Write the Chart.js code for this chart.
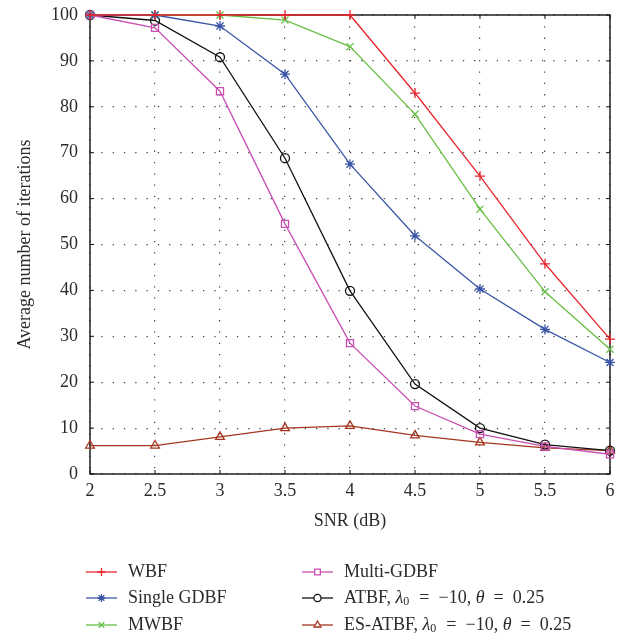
<!DOCTYPE html>
<html>
<head>
<meta charset="utf-8">
<script src="https://cdn.jsdelivr.net/npm/chart.js@4/dist/chart.umd.min.js"></script>
<style>
  html, body { margin: 0; padding: 0; background: #fff; }
  #wrap { width: 642px; height: 637px; position: relative; }
</style>
</head>
<body>
<div id="wrap"><canvas id="snrChart"></canvas></div>
<script>
var snr = [2, 2.5, 3, 3.5, 4, 4.5, 5, 5.5, 6];
var wbf = [100, 100, 100, 100, 100, 83.0, 64.9, 45.8, 29.4];
var singleGdbf = [100, 100, 97.6, 87.1, 67.5, 51.9, 40.3, 31.5, 24.3];
var mwbf = [100, 100, 100, 98.9, 93.1, 78.4, 57.7, 39.7, 27.2];
var multiGdbf = [100, 97.2, 83.4, 54.5, 28.5, 14.8, 8.7, 6.0, 4.3];
var atbf = [100, 98.8, 90.8, 68.8, 39.9, 19.6, 10.0, 6.4, 5.1];
var esAtbf = [6.2, 6.2, 8.1, 10.0, 10.5, 8.4, 6.9, 5.7, 5.1];

var seriesNames = ['WBF', 'Single GDBF', 'MWBF', 'Multi-GDBF',
  'ATBF, λ0 = −10, θ = 0.25', 'ES-ATBF, λ0 = −10, θ = 0.25'];

var FONT = '"Liberation Serif", "Times New Roman", serif';
var TEXT = '#2b2b2b';

function pts(vals) {
  return vals.map(function (v, i) { return { x: snr[i], y: v }; });
}

function series(name, vals, color, style, radius) {
  return {
    label: name,
    data: pts(vals),
    borderColor: color,
    backgroundColor: '#fff',
    borderWidth: 1.3,
    pointStyle: style,
    pointRadius: radius,
    pointBorderColor: color,
    pointBackgroundColor: 'rgba(255,255,255,0)',
    pointBorderWidth: 1.3,
    tension: 0,
    clip: false
  };
}

// box around the plot + small inward ticks
var frame = {
  id: 'frame',
  beforeDatasetsDraw: function (chart) {
    var a = chart.chartArea, c = chart.ctx;
    c.save();
    c.strokeStyle = '#111';
    c.lineWidth = 1.4;
    c.strokeRect(a.left, a.top, a.right - a.left, a.bottom - a.top);
    c.lineWidth = 1;
    var t = 4;
    chart.scales.x.ticks.forEach(function (tk) {
      var x = chart.scales.x.getPixelForValue(tk.value);
      c.beginPath();
      c.moveTo(x, a.top); c.lineTo(x, a.top + t);
      c.moveTo(x, a.bottom); c.lineTo(x, a.bottom - t);
      c.stroke();
    });
    chart.scales.y.ticks.forEach(function (tk) {
      var y = chart.scales.y.getPixelForValue(tk.value);
      c.beginPath();
      c.moveTo(a.left, y); c.lineTo(a.left + t, y);
      c.moveTo(a.right, y); c.lineTo(a.right - t, y);
      c.stroke();
    });
    c.restore();
  }
};

function drawRich(c, text, x, y) {
  // math-style spacing around "=" and italic greek with subscript
  var parts = text.replace(/ = /g, '\u2002=\u2002').split(/(λ0|θ)/);
  parts.forEach(function (p) {
    if (p === 'λ0') {
      c.font = 'italic 18px ' + FONT;
      c.fillText('λ', x, y);
      x += c.measureText('λ').width;
      c.font = '12px ' + FONT;
      c.fillText('0', x, y + 4);
      x += c.measureText('0').width + 1;
    } else if (p === 'θ') {
      c.font = 'italic 18px ' + FONT;
      c.fillText('θ', x, y);
      x += c.measureText('θ').width;
    } else if (p) {
      c.font = '18px ' + FONT;
      c.fillText(p, x, y);
      x += c.measureText(p).width;
    }
  });
}

// two-column legend under the axis title
var legend2 = {
  id: 'legend2',
  afterDraw: function (chart) {
    var c = chart.ctx;
    var cols = [86, 302], rows = [572, 598, 625];
    c.save();
    chart.data.datasets.forEach(function (ds, i) {
      var x0 = cols[Math.floor(i / 3)], y0 = rows[i % 3];
      c.strokeStyle = ds.borderColor;
      c.lineWidth = 1.3;
      c.beginPath();
      c.moveTo(x0, y0); c.lineTo(x0 + 31, y0);
      c.stroke();
      c.fillStyle = '#fff';
      Chart.helpers.drawPoint(c, {
        pointStyle: ds.pointStyle,
        radius: ds.pointRadius * 0.8,
        borderWidth: 1.3
      }, x0 + 15.5, y0);
      c.fillStyle = TEXT;
      c.textBaseline = 'middle';
      c.textAlign = 'left';
      drawRich(c, ds.label, x0 + 42, y0);
    });
    c.restore();
  }
};

new Chart(document.getElementById('snrChart'), {
  type: 'line',
  data: {
    datasets: [
      series(seriesNames[0], wbf, '#e8262d', 'cross', 5),
      series(seriesNames[1], singleGdbf, '#3a55a6', 'star', 5),
      series(seriesNames[2], mwbf, '#68bf45', 'crossRot', 5),
      series(seriesNames[3], multiGdbf, '#c94fb3', 'rect', 5),
      series(seriesNames[4], atbf, '#111111', 'circle', 4.5),
      series(seriesNames[5], esAtbf, '#a3361f', 'triangle', 5)
    ]
  },
  options: {
    responsive: true,
    maintainAspectRatio: false,
    animation: false,
    layout: { padding: { left: 0, right: 32, top: 15, bottom: 103 } },
    plugins: { legend: { display: false }, tooltip: { enabled: false } },
    scales: {
      x: {
        type: 'linear',
        min: 2, max: 6,
        ticks: {
          stepSize: 0.5, color: TEXT, font: { family: FONT, size: 18 }, padding: 6, maxRotation: 0,
          callback: function (v) { return String(Math.round(v * 10) / 10); }
        },
        grid: { color: '#444', lineWidth: 1.2, drawTicks: false },
        border: { display: false, dash: [1.3, 10] },
        title: { display: true, text: 'SNR (dB)', color: TEXT, font: { family: FONT, size: 18 }, padding: { top: 0, bottom: 2 } },
        afterFit: function (s) { s.height = 60; s.paddingLeft = 0; s.paddingRight = 0; }
      },
      y: {
        min: 0, max: 100,
        ticks: { stepSize: 10, color: TEXT, font: { family: FONT, size: 18 }, padding: 12 },
        grid: { color: '#444', lineWidth: 1.2, drawTicks: false },
        border: { display: false, dash: [1.3, 10] },
        title: { display: true, text: 'Average number of iterations', color: TEXT, font: { family: FONT, size: 18 }, padding: { top: 14, bottom: 0 } },
        afterFit: function (s) { s.width = 90; s.paddingTop = 0; s.paddingBottom = 0; }
      }
    }
  },
  plugins: [frame, legend2]
});
</script>
</body>
</html>
